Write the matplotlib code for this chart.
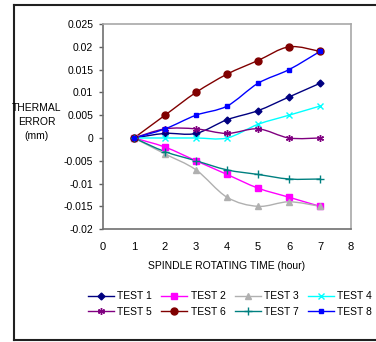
import numpy as np
import matplotlib
matplotlib.use('Agg')
import matplotlib.pyplot as plt
from matplotlib.path import Path
from matplotlib.patches import PathPatch
from matplotlib.lines import Line2D

plt.rcParams['font.family'] = ['Liberation Sans Narrow', 'Liberation Sans', 'DejaVu Sans']

hours = [1, 2, 3, 4, 5, 6, 7]
test1 = [0, 0.001, 0.001, 0.004, 0.006, 0.009, 0.012]
test2 = [0, -0.002, -0.005, -0.008, -0.011, -0.013, -0.015]
test3 = [0, -0.0035, -0.007, -0.013, -0.015, -0.014, -0.015]
test4 = [0, 0, 0, 0, 0.003, 0.005, 0.007]
test5 = [0, 0.002, 0.002, 0.001, 0.002, 0, 0]
test6 = [0, 0.005, 0.01, 0.014, 0.017, 0.02, 0.019]
test7 = [0, -0.003, -0.005, -0.007, -0.008, -0.009, -0.009]
test8 = [0, 0.002, 0.005, 0.007, 0.012, 0.015, 0.019]

labels = ['TEST 1', 'TEST 2', 'TEST 3', 'TEST 4',
          'TEST 5', 'TEST 6', 'TEST 7', 'TEST 8']
series = [test1, test2, test3, test4, test5, test6, test7, test8]
colors = ['#000080', '#FF00FF', '#B0B0B0', '#00FFFF',
          '#800080', '#800000', '#008080', '#0000FF']
markers = ['D', 's', '^', 'x', (6, 2, 0), 'o', '+', 's']
msizes = [3.5, 5, 5, 5, 5, 5, 6, 3]

x_ticks = [0, 1, 2, 3, 4, 5, 6, 7, 8]
y_ticks = [-0.02, -0.015, -0.01, -0.005, 0, 0.005, 0.01, 0.015, 0.02, 0.025]
y_labels = ['-0.02', '-0.015', '-0.01', '-0.005', '0', '0.005', '0.01',
            '0.015', '0.02', '0.025']


def smooth_path(xs, ys, t=1.0 / 6):
    # excel-like smoothed line through the points (catmull-rom -> bezier)
    xs = np.asarray(xs, float)
    ys = np.asarray(ys, float)
    verts = [(xs[0], ys[0])]
    codes = [Path.MOVETO]
    n = len(xs)
    for i in range(n - 1):
        x0, y0 = (xs[i - 1], ys[i - 1]) if i > 0 else (xs[i], ys[i])
        x3, y3 = (xs[i + 2], ys[i + 2]) if i + 2 < n else (xs[i + 1], ys[i + 1])
        c1 = (xs[i] + (xs[i + 1] - x0) * t, ys[i] + (ys[i + 1] - y0) * t)
        c2 = (xs[i + 1] - (x3 - xs[i]) * t, ys[i + 1] - (y3 - ys[i]) * t)
        verts += [c1, c2, (xs[i + 1], ys[i + 1])]
        codes += [Path.CURVE4] * 3
    return Path(verts, codes)


fig = plt.figure(figsize=(3.76, 3.42), dpi=100)
ax = fig.add_axes([0.274, 0.330, 0.6595, 0.5997])

handles = []
for vals, lab, col, mk, ms in zip(series, labels, colors, markers, msizes):
    ax.add_patch(PathPatch(smooth_path(hours, vals), facecolor='none',
                           edgecolor=col, lw=1.0, zorder=2))
    ax.plot(hours, vals, linestyle='none', marker=mk, color=col,
            markersize=ms, markeredgewidth=1.0, zorder=3)
    handles.append(Line2D([], [], color=col, lw=1.0, marker=mk,
                          markersize=ms, markeredgewidth=1.0, label=lab))

ax.set_xlim(0, 8)
ax.set_ylim(-0.02, 0.025)
ax.set_xticks(x_ticks)
ax.set_xticklabels([str(v) for v in x_ticks], fontsize=8)
ax.set_yticks(y_ticks)
ax.set_yticklabels(y_labels, fontsize=7.5)
ax.tick_params(axis='x', length=0, pad=9)
ax.tick_params(axis='y', length=3, width=1, color='#606060', pad=4)

for side in ['left', 'bottom']:
    ax.spines[side].set_color('#707070')
    ax.spines[side].set_linewidth(1.2)
for side in ['top', 'right']:
    ax.spines[side].set_color('#A8A8A8')
    ax.spines[side].set_linewidth(1.2)

ax.set_xlabel('SPINDLE ROTATING TIME (hour)', fontsize=7.5, labelpad=7)
fig.text(0.098, 0.643, 'THERMAL\nERROR\n(mm)', fontsize=7.5, ha='center',
         va='center', linespacing=1.5)

# legend order: row-wise
order = [0, 4, 1, 5, 2, 6, 3, 7]
fig.legend([handles[i] for i in order], [labels[i] for i in order],
           ncol=4, loc='center', bbox_to_anchor=(0.612, 0.111), frameon=False,
           fontsize=7.5, handlelength=2.5, handletextpad=0.3,
           columnspacing=0.9, labelspacing=0.55)

# outer border of the chart (left, top, bottom; right runs off the image)
bx = 13.5 / 376
by0 = 1 - 339.5 / 342
by1 = 1 - 4.5 / 342
for xs, ys in [([bx, bx], [by0, by1]), ([bx, 1.0], [by1, by1]),
               ([bx, 1.0], [by0, by0])]:
    fig.add_artist(Line2D(xs, ys, transform=fig.transFigure,
                          color='#202020', lw=1.5))

fig.savefig('out.png', dpi=100)
